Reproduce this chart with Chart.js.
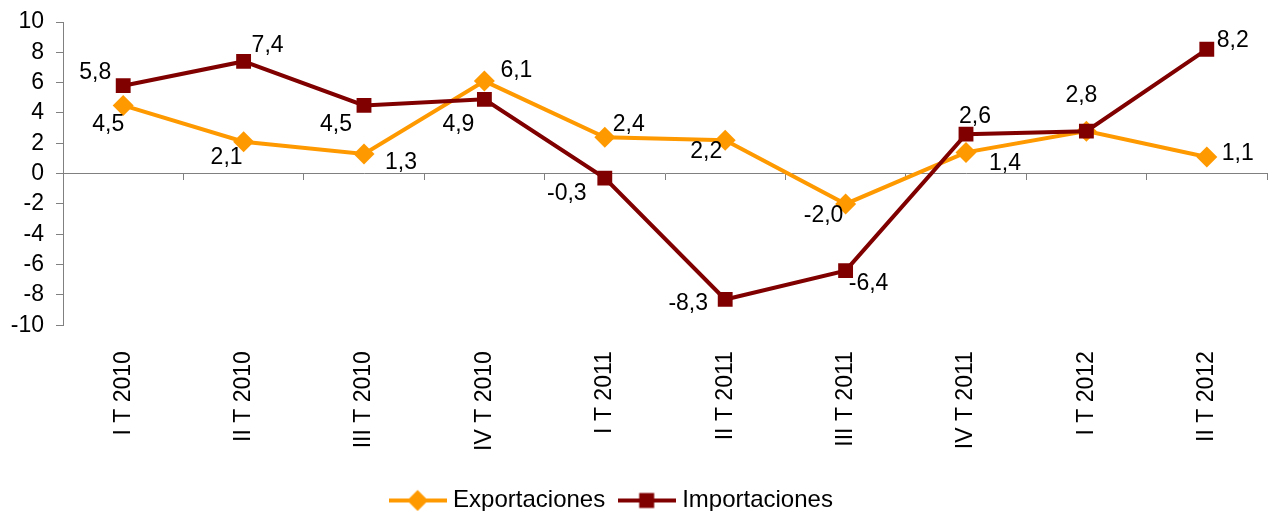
<!DOCTYPE html>
<html>
<head>
<meta charset="utf-8">
<script src="https://cdn.jsdelivr.net/npm/chart.js@4"></script>
<style>
html,body{margin:0;padding:0;background:#fff;}
#wrap{width:1270px;height:511px;position:relative;}
</style>
</head>
<body>
<div id="wrap"><canvas id="c" width="1270" height="511"></canvas></div>
<script>
const categories = ['I T 2010','II T 2010','III T 2010','IV T 2010','I T 2011','II T 2011','III T 2011','IV T 2011','I T 2012','II T 2012'];
const exportaciones = [4.5, 2.1, 1.3, 6.1, 2.4, 2.2, -2.0, 1.4, 2.8, 1.1];
const importaciones = [5.8, 7.4, 4.5, 4.9, -0.3, -8.3, -6.4, 2.6, 2.8, 8.2];
const yMin = -10, yMax = 10, yStep = 2;

// label placement (style only): pixel offsets from each point
const exportLabelOffsets = [[-15,19],[-17,16],[37,9],[32,-10],[24,-13],[-19,11],[-22,12],[39,11],null,[31,-3]];
const importLabelOffsets = [[-28,-13],[24,-16],[-28,19],[-26,25],[-38,16],[-37,4],[23,13],[9,-18],[-5,-35],[26,-9]];

const ORANGE = '#FF9900';
const DARKRED = '#800000';
const GRAY = '#808080';
const FONT = '"Liberation Sans", Arial, sans-serif';
const FS = 23;
const LEGEND_FS = 24;

function legendImage(color, style) {
  const cv = document.createElement('canvas');
  cv.width = 58; cv.height = 24;
  const c = cv.getContext('2d');
  c.strokeStyle = color; c.lineWidth = 4;
  c.beginPath(); c.moveTo(0, 12); c.lineTo(58, 12); c.stroke();
  c.fillStyle = color;
  c.beginPath();
  if (style === 'diamond') {
    c.moveTo(29 - 10.5, 12); c.lineTo(29, 12 - 10.5); c.lineTo(29 + 10.5, 12); c.lineTo(29, 12 + 10.5); c.closePath();
  } else {
    c.rect(29 - 7.5, 12 - 7.5, 15, 15);
  }
  c.fill();
  return cv;
}
const legendImgs = [legendImage(ORANGE, 'diamond'), legendImage(DARKRED, 'square')];

const valueLabels = {
  id: 'valueLabels',
  afterDatasetsDraw(chart) {
    const ctx = chart.ctx;
    const offsets = [exportLabelOffsets, importLabelOffsets];
    ctx.save();
    ctx.font = FS + 'px ' + FONT;
    ctx.fillStyle = '#000';
    ctx.textAlign = 'center';
    ctx.textBaseline = 'middle';
    chart.data.datasets.forEach((ds, di) => {
      const meta = chart.getDatasetMeta(di);
      meta.data.forEach((pt, i) => {
        const off = offsets[di][i];
        if (!off) return;
        const txt = ds.data[i].toFixed(1).replace('.', ',');
        ctx.fillText(txt, pt.x + off[0], pt.y + off[1]);
      });
    });
    ctx.restore();
  }
};

const legendShift = {
  id: 'legendShift',
  afterLayout(chart) {
    if (chart.legend) { chart.legend.left -= 20; chart.legend.right -= 20; }
  }
};

new Chart(document.getElementById('c'), {
  type: 'line',
  data: {
    labels: categories,
    datasets: [
      {
        label: 'Exportaciones',
        data: exportaciones,
        borderColor: ORANGE,
        backgroundColor: ORANGE,
        borderWidth: 4,
        pointStyle: 'rectRot',
        pointRadius: 10.5,
        pointBorderWidth: 0,
        pointBackgroundColor: ORANGE,
        tension: 0,
        order: 2
      },
      {
        label: 'Importaciones',
        data: importaciones,
        borderColor: DARKRED,
        backgroundColor: DARKRED,
        borderWidth: 4,
        pointStyle: 'rect',
        pointRadius: 10.5,
        pointBorderWidth: 0,
        pointBackgroundColor: DARKRED,
        tension: 0,
        order: 1
      }
    ]
  },
  options: {
    responsive: false,
    animation: false,
    devicePixelRatio: 1,
    layout: { autoPadding: false, padding: { left: 0, right: 3, top: 22, bottom: -11.5 } },
    scales: {
      x: {
        type: 'category',
        position: 'bottom',
        offset: true,
        grid: { display: false, drawTicks: false },
        border: { display: false },
        ticks: {
          color: '#000',
          font: { family: FONT, size: FS },
          minRotation: 90,
          maxRotation: 90,
          padding: 26,
          autoSkip: false
        },
        afterFit(scale) { scale.height = 145.3; scale.paddingLeft = 0; scale.paddingRight = 0; }
      },
      x2: {
        type: 'category',
        position: { y: 0 },
        offset: true,
        grid: { display: true, offset: true, drawOnChartArea: false, drawTicks: true, tickLength: 6, color: GRAY, lineWidth: 1 },
        border: { display: true, color: GRAY, width: 1 },
        ticks: { display: false, autoSkip: false },
        afterFit(scale) { scale.paddingLeft = 0; scale.paddingRight = 0; }
      },
      y: {
        type: 'linear',
        min: yMin,
        max: yMax,
        ticks: {
          stepSize: yStep,
          autoSkip: false,
          color: '#000',
          font: { family: FONT, size: FS },
          padding: 12,
          callback: v => String(v)
        },
        grid: { display: true, drawOnChartArea: false, drawTicks: true, tickLength: 7, color: GRAY },
        border: { display: true, color: GRAY, width: 1 },
        afterFit(scale) { scale.width = 63; scale.paddingTop = 0; scale.paddingBottom = 0; }
      }
    },
    plugins: {
      tooltip: { enabled: false },
      legend: {
        position: 'bottom',
        labels: {
          color: '#000',
          font: { family: FONT, size: LEGEND_FS },
          usePointStyle: true,
          pointStyleWidth: 47,
          padding: 18,
          generateLabels(chart) {
            return chart.data.datasets.map((ds, i) => ({
              text: ds.label,
              fillStyle: ds.borderColor,
              strokeStyle: ds.borderColor,
              lineWidth: 0,
              pointStyle: legendImgs[i],
              hidden: false,
              datasetIndex: i,
              fontColor: '#000'
            }));
          }
        }
      }
    }
  },
  plugins: [valueLabels, legendShift]
});
</script>
</body>
</html>
